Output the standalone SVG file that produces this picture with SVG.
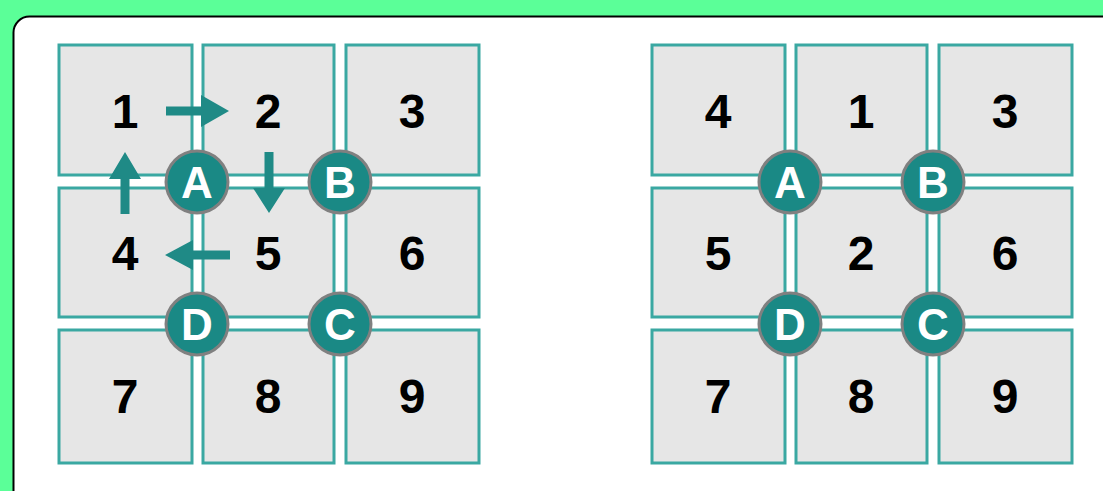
<svg xmlns="http://www.w3.org/2000/svg" width="1103" height="491" viewBox="0 0 1103 491">
<style>
.cell{fill:#e6e6e6;stroke:#3aa8a2;stroke-width:3}
.num{font-family:"Liberation Sans",Arial,sans-serif;font-weight:bold;font-size:48px;fill:#000;text-anchor:middle}
.hub{fill:#1a8985;stroke:#808080;stroke-width:3}
.lbl{font-family:"Liberation Sans",Arial,sans-serif;font-weight:bold;font-size:44px;fill:#fff;text-anchor:middle}
.arr{fill:#1f8a86}
</style>
<rect x="0" y="0" width="1103" height="491" fill="#5bff98"/>
<rect x="13.5" y="16.5" width="1130" height="520" rx="16" fill="#fff" stroke="#000" stroke-width="2"/>
<g id="left-grid">
<g id="L1"><rect class="cell" x="59" y="45" width="133" height="130"/><text class="num" x="125" y="128">1</text></g>
<g id="L2"><rect class="cell" x="203" y="45" width="131" height="130"/><text class="num" x="268" y="128">2</text></g>
<g id="L3"><rect class="cell" x="346" y="45" width="133" height="130"/><text class="num" x="412" y="128">3</text></g>
<g id="L4"><rect class="cell" x="59" y="188" width="133" height="129"/><text class="num" x="125" y="270">4</text></g>
<g id="L5"><rect class="cell" x="203" y="188" width="131" height="129"/><text class="num" x="268" y="270">5</text></g>
<g id="L6"><rect class="cell" x="346" y="188" width="133" height="129"/><text class="num" x="412" y="270">6</text></g>
<g id="L7"><rect class="cell" x="59" y="330" width="133" height="133"/><text class="num" x="125" y="413">7</text></g>
<g id="L8"><rect class="cell" x="203" y="330" width="131" height="133"/><text class="num" x="268" y="413">8</text></g>
<g id="L9"><rect class="cell" x="346" y="330" width="133" height="133"/><text class="num" x="412" y="413">9</text></g>
</g>
<g id="right-grid">
<g id="R4"><rect class="cell" x="652" y="45" width="133" height="130"/><text class="num" x="718" y="128">4</text></g>
<g id="R1"><rect class="cell" x="796" y="45" width="131" height="130"/><text class="num" x="861" y="128">1</text></g>
<g id="R3"><rect class="cell" x="939" y="45" width="133" height="130"/><text class="num" x="1005" y="128">3</text></g>
<g id="R5"><rect class="cell" x="652" y="188" width="133" height="129"/><text class="num" x="718" y="270">5</text></g>
<g id="R2"><rect class="cell" x="796" y="188" width="131" height="129"/><text class="num" x="861" y="270">2</text></g>
<g id="R6"><rect class="cell" x="939" y="188" width="133" height="129"/><text class="num" x="1005" y="270">6</text></g>
<g id="R7"><rect class="cell" x="652" y="330" width="133" height="133"/><text class="num" x="718" y="413">7</text></g>
<g id="R8"><rect class="cell" x="796" y="330" width="131" height="133"/><text class="num" x="861" y="413">8</text></g>
<g id="R9"><rect class="cell" x="939" y="330" width="133" height="133"/><text class="num" x="1005" y="413">9</text></g>
</g>
<g id="connectors">
<polygon class="arr" points="166,106.5 201,106.5 201,95 229,111 201,127 201,115.5 166,115.5"/>
<polygon class="arr" points="264.5,152 273.5,152 273.5,188 285,188 269,213 253,188 264.5,188"/>
<polygon class="arr" points="230,250.5 193,250.5 193,240 165,255 193,270 193,259.5 230,259.5"/>
<polygon class="arr" points="120.5,214 120.5,179 109,179 125,152 141,179 129.5,179 129.5,214"/>
</g>
<g id="LA"><circle class="hub" cx="197" cy="182" r="31"/><text class="lbl" x="197" y="198">A</text></g>
<g id="LB"><circle class="hub" cx="340" cy="182" r="31"/><text class="lbl" x="340" y="198">B</text></g>
<g id="LD"><circle class="hub" cx="197" cy="324" r="31"/><text class="lbl" x="197" y="340">D</text></g>
<g id="LC"><circle class="hub" cx="340" cy="324" r="31"/><text class="lbl" x="340" y="340">C</text></g>
<g id="RA"><circle class="hub" cx="790" cy="182" r="31"/><text class="lbl" x="790" y="198">A</text></g>
<g id="RB"><circle class="hub" cx="933" cy="182" r="31"/><text class="lbl" x="933" y="198">B</text></g>
<g id="RD"><circle class="hub" cx="790" cy="324" r="31"/><text class="lbl" x="790" y="340">D</text></g>
<g id="RC"><circle class="hub" cx="933" cy="324" r="31"/><text class="lbl" x="933" y="340">C</text></g>
</svg>
